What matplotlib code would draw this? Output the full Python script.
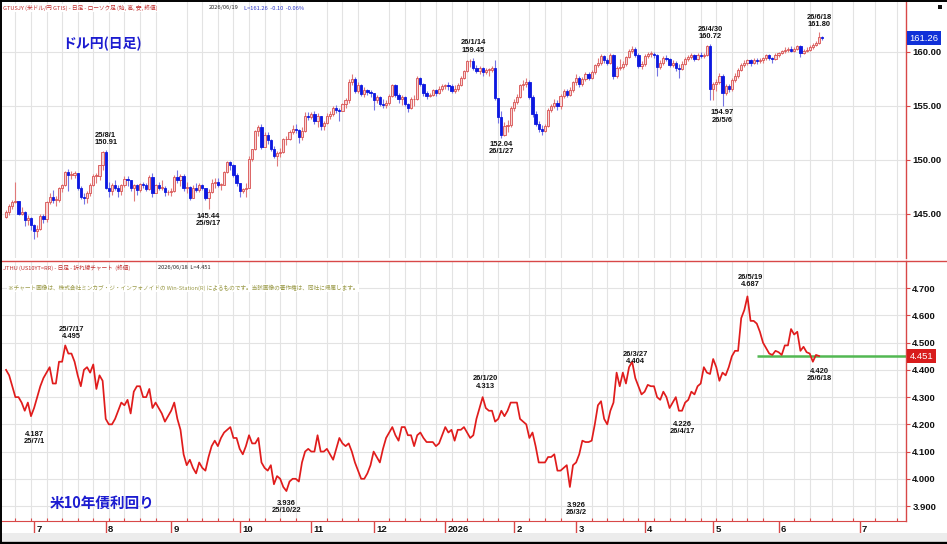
"""USD/JPY daily candles above the US 10-year yield, laid out like a Win-Station screen."""

import matplotlib

matplotlib.use("Agg")
import matplotlib.pyplot as plt
import matplotlib.transforms as mtransforms
import numpy as np
import pandas as pd
from matplotlib.lines import Line2D
from matplotlib.patches import Rectangle

plt.rcParams["font.family"] = ["Noto Sans CJK JP", "DejaVu Sans"]
NUM_FONT = ["Liberation Sans Narrow", "Liberation Sans", "DejaVu Sans"]

FIRST_DAY = "2025-06-18"
LAST_DAY = "2026-06-19"
LEVEL_FROM = "2026-05-21"

# USD/JPY, one bar per weekday; FX bars open at the prior close
first_open = 144.7
fx_close = [
    # Jun 2025
    145.2, 145.7, 146.1, 146.2, 145.0, 145.2, 144.4, 144.6, 144.0,
    # Jul
    143.4, 143.6, 144.8, 144.5, 146.1, 146.6, 146.3, 146.3, 147.4, 147.7, 148.9, 148.6,
    148.6, 148.8, 147.4, 146.6, 146.5, 146.9, 147.7, 148.5, 148.5, 149.5, 150.7,
    # Aug
    147.4, 147.1, 147.7, 147.4, 147.1, 147.7, 148.2, 148.1, 147.4, 147.7, 147.2,
    147.8, 147.7, 147.3, 148.4, 146.9, 147.7, 147.4, 147.4, 147.0, 147.0,
    # Sep
    147.1, 148.4, 148.1, 148.5, 147.4, 147.5, 146.5, 147.4, 147.2, 147.7, 147.4,
    146.5, 147.0, 147.9, 148.0, 147.7, 147.7, 148.9, 149.8, 149.5, 148.6, 147.9,
    # Oct
    147.1, 147.3, 147.4, 150.1, 151.0, 152.7, 153.0, 151.2, 152.3, 151.8, 151.0, 150.4,
    150.6, 150.7, 151.9, 151.9, 152.6, 152.9, 152.8, 152.1, 152.7, 154.1, 154.0,
    # Nov
    154.2, 153.6, 154.1, 153.1, 153.4, 154.1, 154.2, 154.8, 154.6, 154.5,
    155.2, 155.5, 157.2, 157.5, 156.4, 156.9, 156.1, 156.5, 156.3, 156.2,
    # Dec
    155.5, 155.8, 155.2, 155.1, 155.3, 155.9, 156.9, 156.0, 155.6, 155.8, 155.2, 154.8,
    155.6, 155.6, 157.6, 157.0, 156.2, 155.9, 156.0, 156.5, 156.2, 156.6, 156.8,
    # Jan 2026
    156.9, 156.8, 156.4, 156.6, 156.9, 157.6, 158.2, 159.1, 159.1, 158.5, 158.2,
    158.5, 158.1, 158.3, 158.3, 158.5, 155.7, 154.0, 152.3, 153.1, 153.2, 154.8,
    # Feb
    155.4, 155.8, 156.9, 157.0, 157.2, 155.8, 154.2, 153.3, 152.9, 152.7,
    153.1, 154.6, 155.0, 155.3, 155.0, 155.9, 156.4, 156.0, 156.5, 157.2,
    # Mar
    157.6, 157.0, 157.5, 157.9, 157.6, 158.1, 158.8, 159.0, 159.6, 159.2, 159.0,
    159.7, 157.8, 158.5, 158.6, 158.9, 159.5, 160.1, 160.3, 159.7, 158.7, 158.9,
    # Apr
    159.6, 159.8, 159.8, 159.7, 158.6, 159.0, 159.4, 159.3, 158.8, 159.0, 158.5,
    158.4, 158.9, 159.3, 159.5, 159.7, 159.3, 159.7, 159.6, 159.7, 160.5, 156.6,
    # May
    157.0, 157.2, 157.8, 156.2, 156.8, 156.6, 157.4, 157.8, 158.3, 158.8, 159.0,
    159.2, 159.0, 159.2, 159.1, 159.2, 159.4, 159.7, 159.4, 159.3, 159.7,
    # Jun
    159.9, 160.1, 160.2, 160.3, 160.1, 160.3, 160.5, 159.9, 160.1, 160.2, 160.4,
    160.6, 160.8, 161.36, 161.26,
]
fx_high = [
    145.4, 145.9, 146.3, 148.0, 146.2, 145.6, 145.3, 144.9, 144.7,
    144.1, 144.0, 145.0, 145.0, 146.2, 146.9, 147.2, 146.7, 147.5, 147.8, 149.0, 149.2,
    149.0, 149.0, 148.8, 147.6, 146.9, 147.1, 147.9, 148.7, 148.8, 149.5, 150.8,
    150.91, 148.0, 147.9, 148.1, 147.7, 147.8, 148.5, 148.5, 148.1, 147.8, 147.8,
    147.9, 148.0, 147.9, 148.6, 148.8, 147.8, 148.0, 148.1, 147.6, 147.2,
    147.4, 148.6, 149.1, 148.7, 148.7, 148.0, 147.6, 147.7, 147.9, 147.9, 147.8,
    147.4, 147.3, 148.2, 148.3, 148.3, 147.9, 149.0, 149.9, 149.9, 149.6, 148.8,
    147.9, 147.4, 147.9, 150.4, 151.0, 152.8, 153.2, 153.3, 152.6, 152.6, 151.9, 151.3,
    150.8, 151.1, 152.0, 152.2, 152.8, 153.2, 153.3, 152.9, 153.0, 154.4, 154.4,
    154.4, 154.5, 154.3, 154.1, 153.6, 154.3, 154.5, 155.0, 155.1, 154.8,
    155.3, 155.7, 157.5, 157.9, 157.7, 157.2, 157.0, 156.7, 156.6, 156.5,
    156.2, 156.0, 155.9, 155.6, 155.5, 156.1, 157.0, 157.0, 156.2, 156.0, 155.9, 155.3,
    155.8, 156.0, 157.8, 157.7, 157.1, 156.4, 156.2, 156.6, 156.6, 156.8, 157.0,
    157.0, 157.2, 157.0, 156.9, 157.1, 157.8, 158.3, 159.2, 159.3, 159.45, 158.8,
    158.7, 158.6, 158.5, 158.5, 158.7, 159.2, 155.5, 154.5, 153.5, 153.7, 155.0,
    155.6, 156.1, 157.0, 157.4, 157.6, 157.4, 156.0, 154.5, 153.6, 153.2,
    153.3, 154.8, 155.2, 155.6, 155.5, 156.1, 156.6, 156.6, 156.7, 157.3,
    157.9, 157.8, 157.7, 158.1, 158.1, 158.3, 158.9, 159.4, 159.8, 159.7, 159.4,
    159.9, 159.8, 158.7, 159.3, 159.1, 159.6, 160.3, 160.5, 160.4, 159.9, 159.1,
    159.8, 160.0, 160.1, 160.0, 159.8, 159.2, 159.6, 159.7, 159.4, 159.2, 159.1,
    158.9, 159.1, 159.5, 159.7, 159.9, 159.8, 159.9, 160.0, 159.9, 160.6, 160.72,
    157.2, 157.5, 158.0, 157.9, 157.0, 157.0, 157.6, 158.0, 158.5, 159.0, 159.2,
    159.3, 159.3, 159.4, 159.4, 159.4, 159.5, 159.8, 159.8, 159.5, 159.9,
    160.0, 160.2, 160.4, 160.4, 160.5, 160.4, 160.6, 160.6, 160.3, 160.4, 160.6,
    160.8, 161.0, 161.80, 161.5,
]
fx_low = [
    144.6, 144.9, 145.5, 146.0, 144.9, 144.9, 143.9, 144.0, 143.5,
    142.7, 142.9, 143.5, 144.2, 144.3, 145.9, 146.0, 145.7, 146.1, 147.0, 147.6, 147.1,
    148.2, 148.3, 147.2, 146.4, 145.9, 146.0, 146.7, 147.6, 147.9, 148.1, 149.1,
    147.3, 146.6, 146.8, 147.2, 146.6, 146.8, 147.5, 147.6, 147.1, 146.2, 146.8,
    147.0, 147.4, 147.1, 147.2, 146.6, 146.9, 147.2, 147.2, 146.7, 146.8,
    146.7, 147.0, 147.9, 147.6, 147.1, 146.9, 146.3, 146.5, 147.0, 147.0, 147.2,
    146.3, 145.44, 146.9, 147.4, 147.5, 147.2, 147.7, 148.8, 149.1, 148.4, 147.6,
    146.6, 146.9, 146.6, 149.0, 149.9, 150.9, 152.2, 151.0, 151.5, 151.5, 150.8, 150.2,
    149.4, 150.3, 150.6, 151.4, 151.8, 152.4, 152.5, 151.6, 151.8, 152.6, 153.7,
    153.8, 153.3, 153.0, 152.8, 152.8, 153.3, 153.8, 154.1, 154.3, 153.6,
    154.5, 154.8, 155.3, 156.9, 156.2, 156.2, 155.9, 155.8, 156.0, 155.8,
    154.6, 155.3, 155.0, 154.8, 154.8, 155.1, 155.8, 155.8, 155.3, 155.1, 155.0, 154.4,
    154.7, 155.0, 155.5, 156.8, 155.9, 155.6, 155.8, 155.9, 155.9, 156.1, 156.4,
    156.6, 156.5, 156.2, 156.2, 156.4, 156.8, 157.5, 158.1, 158.6, 158.3, 158.0,
    157.9, 157.8, 157.9, 157.8, 158.1, 155.5, 153.4, 152.04, 152.2, 152.6, 153.0,
    154.5, 155.2, 155.7, 156.5, 156.7, 155.6, 154.0, 153.1, 152.6, 152.3,
    152.6, 153.0, 154.4, 154.8, 154.6, 154.7, 155.7, 155.8, 155.9, 156.3,
    156.9, 156.7, 156.8, 157.3, 157.4, 157.5, 157.9, 158.6, 158.8, 159.0, 158.8,
    158.9, 157.5, 157.6, 158.3, 158.4, 158.7, 159.4, 159.9, 159.5, 158.5, 158.4,
    158.7, 159.4, 159.5, 159.4, 157.8, 158.4, 158.8, 159.1, 158.6, 158.6, 158.2,
    157.6, 158.3, 158.8, 159.1, 159.3, 159.1, 159.2, 159.4, 159.4, 159.6, 155.5,
    155.5, 156.4, 157.0, 154.97, 156.0, 156.3, 156.4, 157.2, 157.6, 158.2, 158.6,
    158.8, 158.7, 158.9, 158.9, 159.0, 159.0, 159.2, 159.2, 159.0, 159.2,
    159.5, 159.8, 159.9, 160.0, 160.0, 160.0, 160.2, 159.5, 159.8, 160.0, 160.1,
    160.3, 160.5, 160.7, 161.1,
]

# US 10-year yield closes (%), same weekday grid, ends one day earlier
yield_close = [
    4.40, 4.38, 4.34, 4.30, 4.30, 4.28, 4.25, 4.28, 4.23, 4.26,
    4.30, 4.34, 4.37, 4.39, 4.41, 4.35, 4.35, 4.43, 4.43, 4.49,
    4.46, 4.46, 4.43, 4.38, 4.34, 4.40, 4.41, 4.39, 4.42, 4.33,
    4.38, 4.36, 4.22, 4.20, 4.20, 4.22, 4.25, 4.28, 4.27, 4.29,
    4.24, 4.32, 4.34, 4.34, 4.30, 4.30, 4.33, 4.26, 4.28, 4.26,
    4.24, 4.21, 4.23, 4.25, 4.28, 4.22, 4.18, 4.09, 4.05, 4.07,
    4.04, 4.02, 4.06, 4.04, 4.03, 4.08, 4.12, 4.14, 4.12, 4.15,
    4.17, 4.18, 4.19, 4.15, 4.15, 4.11, 4.09, 4.12, 4.16, 4.13,
    4.13, 4.15, 4.06, 4.04, 4.03, 4.05, 3.98, 4.01, 4.00, 3.97,
    3.955, 3.99, 4.00, 4.00, 3.99, 4.06, 4.10, 4.11, 4.10, 4.10,
    4.16, 4.10, 4.10, 4.11, 4.09, 4.07, 4.11, 4.15, 4.13, 4.12,
    4.13, 4.10, 4.06, 4.03, 4.00, 4.00, 4.02, 4.05, 4.10, 4.08,
    4.06, 4.11, 4.15, 4.17, 4.19, 4.16, 4.14, 4.19, 4.19, 4.16,
    4.16, 4.12, 4.16, 4.17, 4.15, 4.135, 4.135, 4.135, 4.12, 4.13,
    4.16, 4.19, 4.17, 4.18, 4.14, 4.18, 4.18, 4.19, 4.17, 4.15,
    4.16, 4.22, 4.26, 4.30, 4.26, 4.25, 4.25, 4.21, 4.22, 4.25,
    4.23, 4.25, 4.28, 4.28, 4.28, 4.22, 4.21, 4.20, 4.15, 4.17,
    4.12, 4.06, 4.06, 4.06, 4.08, 4.08, 4.09, 4.03, 4.03, 4.04,
    4.05, 3.97, 4.05, 4.06, 4.09, 4.14, 4.135, 4.135, 4.14, 4.20,
    4.27, 4.285, 4.22, 4.20, 4.25, 4.28, 4.39, 4.34, 4.39, 4.35,
    4.41, 4.43, 4.37, 4.34, 4.31, 4.32, 4.345, 4.34, 4.34, 4.30,
    4.29, 4.32, 4.30, 4.26, 4.28, 4.30, 4.25, 4.25, 4.28, 4.29,
    4.32, 4.31, 4.34, 4.35, 4.41, 4.39, 4.385, 4.44, 4.41, 4.36,
    4.39, 4.38, 4.41, 4.45, 4.47, 4.47, 4.59, 4.62, 4.67, 4.58,
    4.58, 4.57, 4.54, 4.50, 4.48, 4.46, 4.455, 4.47, 4.465, 4.455,
    4.49, 4.49, 4.55, 4.53, 4.54, 4.47, 4.485, 4.465, 4.46, 4.43,
    4.455, 4.451,
]

fx_ticks = [145, 150, 155, 160]
yield_ticks = [3.9, 4.0, 4.1, 4.2, 4.3, 4.4, 4.5, 4.6, 4.7]

# (date label, value, date, side)
fx_marks = [
    ("25/8/1", 150.91, "2025-08-01", "high"),
    ("25/9/17", 145.44, "2025-09-17", "low"),
    ("26/1/14", 159.45, "2026-01-14", "high"),
    ("26/1/27", 152.04, "2026-01-27", "low"),
    ("26/4/30", 160.72, "2026-04-30", "high"),
    ("26/5/6", 154.97, "2026-05-06", "low"),
    ("26/6/18", 161.80, "2026-06-18", "high"),
]
yield_marks = [
    ("25/7/17", 4.495, "2025-07-17", "high"),
    ("25/7/1", 4.187, "2025-07-01", "low"),
    ("25/10/22", 3.936, "2025-10-22", "low"),
    ("26/1/20", 4.313, "2026-01-20", "high"),
    ("26/3/2", 3.926, "2026-03-02", "low"),
    ("26/3/27", 4.404, "2026-03-27", "high"),
    ("26/4/17", 4.226, "2026-04-17", "low"),
    ("26/5/19", 4.687, "2026-05-19", "high"),
    ("26/6/18", 4.420, "2026-06-18", "low"),
]

W, H = 947, 544
XLIM = (-1.3, 288.9)
RED = "#d84848"
UP_FACE, UP_EDGE, UP_WICK = "#f7d4d4", "#d85050", "#e07a7a"
DOWN_FACE, DOWN_WICK = "#0c18e0", "#7474e4"
TITLE_BLUE = "#1c1cd0"

days = pd.bdate_range(FIRST_DAY, LAST_DAY)


def xpos(date):
    """Weekday index inside the data, calendar days past the last bar."""
    date = pd.Timestamp(date)
    if date <= days[-1]:
        return int(days.searchsorted(date))
    return len(days) - 1 + (date - days[-1]).days


def fig_box(x0, y0, x1, y1):
    return [x0 / W, 1 - y1 / H, (x1 - x0) / W, (y1 - y0) / H]


def draw_candles(ax, opens, highs, lows, closes):
    x = np.arange(len(closes))
    up = closes >= opens
    bottoms = np.minimum(opens, closes)
    heights = np.maximum(np.abs(closes - opens), 0.07)
    for mask, face, edge, wick in ((up, UP_FACE, UP_EDGE, UP_WICK), (~up, DOWN_FACE, DOWN_FACE, DOWN_WICK)):
        ax.vlines(x[mask], lows[mask], highs[mask], color=wick, linewidth=0.8, zorder=2)
        ax.bar(x[mask], heights[mask], bottom=bottoms[mask], width=0.72, color=face,
               edgecolor=edge, linewidth=0.6, zorder=3)


def mark_extremes(ax, marks):
    for date_label, value, date, side in marks:
        digits = 3 if value < 10 else 2
        number = f"{value:.{digits}f}"
        if side == "high":
            text, dy = f"{date_label}\n{number}", 8
        else:
            text, dy = f"{number}\n{date_label}", -7.5
        ax.annotate(text, xy=(xpos(date), value), xytext=(0, dy), textcoords="offset points",
                    ha="center", va="center", fontsize=5.4, family=NUM_FONT, fontweight="bold",
                    linespacing=1.05, color="#111111", zorder=5)


def style_axis(ax, ylim, yticks, fmt, month_pos, mondays):
    ax.yaxis.tick_right()
    ax.set_yticks(yticks)
    ax.set_yticklabels([fmt.format(v) for v in yticks])
    ax.tick_params(axis="y", direction="out", length=3, width=0.8, color=RED, pad=1.5,
                   labelsize=6.8, labelcolor="#111111")
    for label in ax.get_yticklabels():
        label.set_fontfamily(NUM_FONT)
        label.set_fontweight("bold")
    ax.set_xticks(month_pos)
    ax.set_xticks(mondays, minor=True)
    ax.set_xticklabels([])
    ax.set_xlim(*XLIM)
    ax.set_ylim(*ylim)
    ax.grid(which="minor", axis="x", color="#e3e3e3", linewidth=0.8)
    ax.grid(which="major", axis="y", color="#e3e3e3", linewidth=0.8)
    ax.grid(which="major", axis="x", visible=False)
    ax.set_axisbelow(True)
    for side in ("left", "top", "bottom"):
        ax.spines[side].set_visible(False)
    ax.spines["right"].set_color(RED)
    ax.spines["right"].set_linewidth(1.0)


def main():
    closes = np.asarray(fx_close)
    opens = np.r_[first_open, closes[:-1]]
    highs = np.maximum(np.asarray(fx_high), np.maximum(opens, closes))
    lows = np.minimum(np.asarray(fx_low), np.minimum(opens, closes))
    yields = np.asarray(yield_close)

    month_starts = pd.date_range("2025-07-01", "2026-07-01", freq="MS")
    month_pos = [xpos(m + pd.offsets.BDay(0)) for m in month_starts]
    month_labels = [str(m.year) if m.month == 1 else str(m.month) for m in month_starts]
    mondays = [xpos(d) for d in pd.date_range("2025-06-23", "2026-07-20", freq="W-MON")]
    mondays = [m for m in mondays if m < XLIM[1]]

    fig = plt.figure(figsize=(W / 100, H / 100), dpi=100)
    ax_fx = fig.add_axes(fig_box(2, 2, 906, 258))
    ax_yd = fig.add_axes(fig_box(2, 261, 906, 521))

    style_axis(ax_fx, (140.93, 164.6), fx_ticks, "{:.2f}", month_pos, mondays)
    style_axis(ax_yd, (3.845, 4.800), yield_ticks, "{:.3f}", month_pos, mondays)
    ax_fx.tick_params(axis="x", which="both", bottom=False)
    ax_yd.spines["bottom"].set_visible(True)
    ax_yd.spines["bottom"].set_color(RED)
    ax_yd.tick_params(axis="x", which="major", direction="out", length=9, width=1.0, color=RED)
    ax_yd.tick_params(axis="x", which="minor", direction="in", length=2.5, width=0.8, color=RED)
    for pos, label in zip(month_pos, month_labels):
        ax_yd.text(pos + 0.8, -0.014, label, transform=ax_yd.get_xaxis_transform(), ha="left",
                   va="top", fontsize=6.8, family=NUM_FONT, fontweight="bold", color="#111111")

    draw_candles(ax_fx, opens, highs, lows, closes)
    ax_yd.plot(np.arange(len(yields)), yields, color="#e01c1c", linewidth=1.25, zorder=3)
    ax_yd.hlines(yields[-1], xpos(LEVEL_FROM), XLIM[1], color="#52b852", linewidth=1.8, zorder=2)

    mark_extremes(ax_fx, fx_marks)
    mark_extremes(ax_yd, yield_marks)

    for ax, value, text, face in ((ax_fx, closes[-1], f"{closes[-1]:.2f}", "#1030d8"),
                                  (ax_yd, yields[-1], f"{yields[-1]:.3f}", "#d81c1c")):
        trans = mtransforms.blended_transform_factory(ax.transAxes, ax.transData)
        ax.text(1.004, value, text, transform=trans, ha="left", va="center", fontsize=6.8,
                family=NUM_FONT, color="white", clip_on=False, zorder=6,
                bbox=dict(boxstyle="square,pad=0.25", fc=face, ec="none"))

    ax_fx.text(0.067, 0.835, "ドル円(日足)", transform=ax_fx.transAxes, fontsize=10,
               fontweight="bold", color=TITLE_BLUE, va="center", zorder=6)
    ax_yd.text(0.053, 0.07, "米10年債利回り", transform=ax_yd.transAxes, fontsize=10.5,
               fontweight="bold", color=TITLE_BLUE, va="center", zorder=6)

    head = fig.text(3 / W, 1 - 8 / H, "GTUSJY (米ドル/円 GTIS) - 日足 - ローソク足 (始, 高, 安, 終値)",
                    fontsize=4.1, color="#c02a2a", va="center")
    fig.text(209 / W, 1 - 8 / H, "2026/06/19", fontsize=4.1, color="#222222", va="center")
    fig.text(244 / W, 1 - 8 / H, "L=161.26  -0.10  -0.06%", fontsize=4.1, color="#2a34c8", va="center")
    fig.text(3 / W, 1 - 268 / H, "JTHU (US10YT=RR) - 日足 - 折れ線チャート  (終値)",
             fontsize=4.1, color="#c02a2a", va="center")
    fig.text(158 / W, 1 - 268 / H, "2026/06/18  L=4.451", fontsize=4.1, color="#222222", va="center")
    fig.text(8 / W, 1 - 288 / H,
             "※チャート画像は、株式会社ミンカブ・ジ・インフォノイドの Win-Station(R) によるものです。"
             "当該画像の著作権は、同社に帰属します。",
             fontsize=4.1, color="#9a9a48", va="center",
             bbox=dict(boxstyle="square,pad=0.1", fc="white", ec="none"))
    head.set_bbox(dict(boxstyle="square,pad=0.1", fc="white", ec="none"))

    fig.add_artist(Rectangle((0, 2 / H), 1, 9 / H, transform=fig.transFigure, fc="#ececec", ec="none"))
    fig.add_artist(Rectangle((938 / W, 1 - 9 / H), 4 / W, 4 / H, transform=fig.transFigure,
                             fc="#111111", ec="none"))
    fig.add_artist(Line2D([0, 1], [1 - 260.5 / H] * 2, color=RED, linewidth=1.0))
    fig.add_artist(Line2D([0.6 / W] * 2, [0, 1], color="black", linewidth=1.4))
    fig.add_artist(Line2D([0, 1], [1 - 0.6 / H] * 2, color="black", linewidth=1.4))
    fig.add_artist(Line2D([0, 1], [1.2 / H] * 2, color="black", linewidth=2.4))

    fig.savefig("out.png", dpi=100)
    plt.close(fig)


if __name__ == "__main__":
    main()
